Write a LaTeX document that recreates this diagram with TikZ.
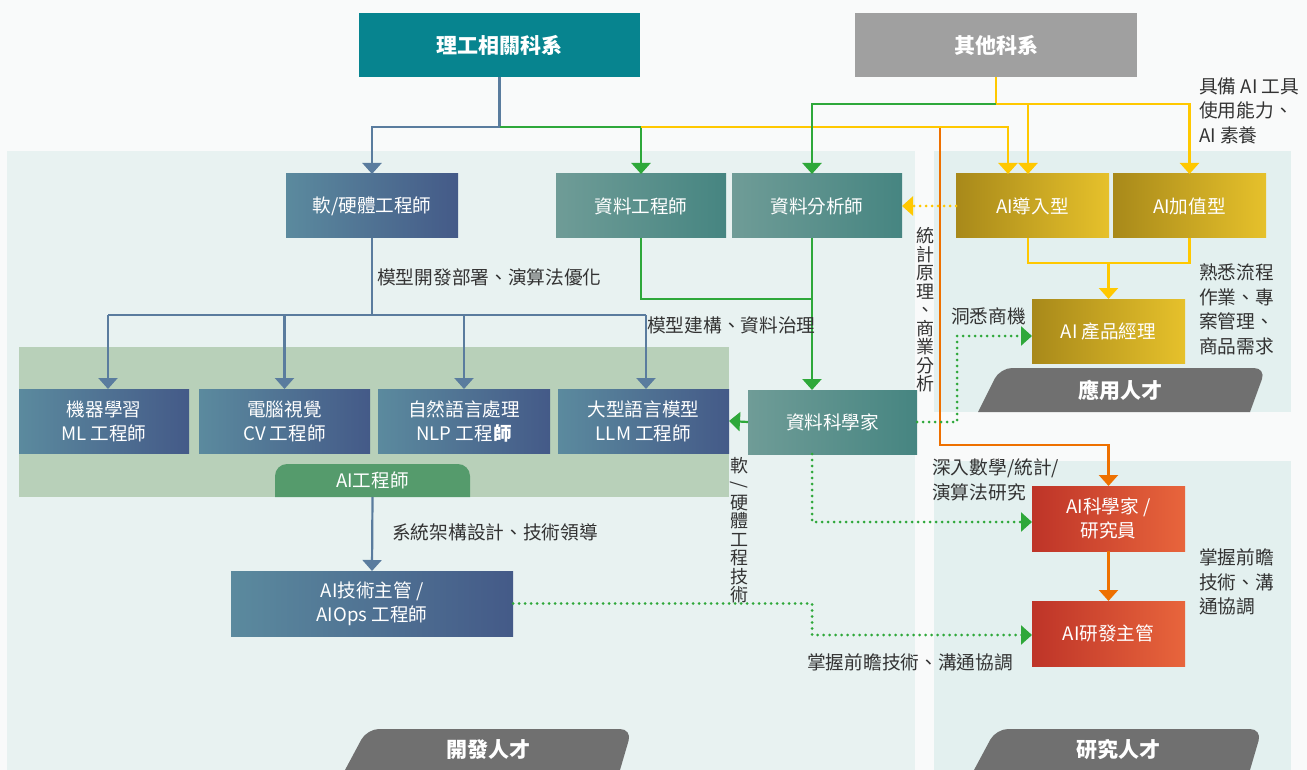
\documentclass[tikz,border=0pt]{standalone}
\usepackage{fontspec}
\usepackage{graphicx}
\setmainfont{Noto Sans CJK TC}
\usetikzlibrary{arrows.meta}
\definecolor{cLG}{HTML}{07848F}
\definecolor{cOT}{HTML}{A0A0A0}
\definecolor{bL}{HTML}{5B8A9E}
\definecolor{bR}{HTML}{445A88}
\definecolor{tL}{HTML}{6F9C97}
\definecolor{tR}{HTML}{468581}
\definecolor{gL}{HTML}{A8891A}
\definecolor{gR}{HTML}{E6C12B}
\definecolor{rL}{HTML}{BE3428}
\definecolor{rR}{HTML}{E8653C}
\definecolor{lnB}{HTML}{5A7C9E}
\definecolor{lnG}{HTML}{2EA83A}
\definecolor{lnY}{HTML}{FFC800}
\definecolor{lnO}{HTML}{EE7000}
\definecolor{sage}{HTML}{B8D0B9}
\definecolor{tabG}{HTML}{559B6C}
\definecolor{tabK}{HTML}{707070}
\definecolor{pnL}{HTML}{E8F2F1}
\definecolor{pnR}{HTML}{E3F0EF}
\definecolor{bgc}{HTML}{F9FAFA}
\definecolor{txt}{HTML}{333333}
\begin{document}
\begin{tikzpicture}[x=1pt,y=-1pt,
  box/.style={inner sep=0pt, outer sep=0pt, text=white, align=center, font=\fontsize{18.6}{24}\selectfont},
  bluebox/.style={box, left color=bL, right color=bR},
  tealbox/.style={box, left color=tL, right color=tR},
  goldbox/.style={box, left color=gL, right color=gR},
  redbox/.style={box, left color=rL, right color=rR},
  topbox/.style={box, font=\fontsize{21}{24}\selectfont\bfseries, minimum width=281pt, minimum height=64pt},
  lbl/.style={text=txt, font=\fontsize{18.7}{24.5}\selectfont, inner sep=0pt, align=left, anchor=west},
  vlbl/.style={text=txt, font=\fontsize{18}{18.5}\selectfont, inner sep=0pt, align=center},
  tabtxt/.style={text=white, font=\fontsize{21}{24}\selectfont\bfseries, inner sep=0pt},
  tipA/.style={-{Triangle[width=19pt,length=11pt]}},
  lnb/.style={draw=lnB, line width=2.2pt},
  lng/.style={draw=lnG, line width=2.2pt},
  lny/.style={draw=lnY, line width=2.2pt},
  lno/.style={draw=lnO, line width=2.2pt},
  gdot/.style={draw=lnG, line width=3pt, line cap=round, dash pattern=on 0pt off 6pt},
  ydot/.style={draw=lnY, line width=3pt, line cap=round, dash pattern=on 0pt off 6pt}
]
\useasboundingbox (0,0) rectangle (1307,770);
\fill[bgc] (0,0) rectangle (1307,770);
% panels
\fill[pnL] (7,151) rectangle (915,770);
\fill[pnR] (934,151) rectangle (1291,412);
\fill[pnR] (934,461) rectangle (1291,770);
\fill[sage] (19,347) rectangle (729,497);
% tabs
\fill[tabG] (275,497) [rounded corners=12pt] -- (275,464) -- (470,464) [sharp corners] -- (470,497) -- cycle;
\fill[tabK] (978,412) [rounded corners=12pt] -- (1000,368) -- (1266,368) [sharp corners] -- (1250,412) -- cycle;
\fill[tabK] (345,770) [rounded corners=12pt] -- (367,729) -- (632,729) [sharp corners] -- (620,770) -- cycle;
\fill[tabK] (974,770) [rounded corners=12pt] -- (996,729) -- (1262,729) [sharp corners] -- (1250,770) -- cycle;
\node[tabtxt] (tapp) at (1120,390) {應用人才};
\node[tabtxt] (tdev) at (488,750) {開發人才};
\node[tabtxt] (tres) at (1118,750) {研究人才};
\node[box, minimum width=195pt, minimum height=33pt] (aie) at (372.5,480.5) {AI工程師};
% boxes
\node[topbox, fill=cLG] (lg) at (499.5,45) {理工相關科系};
\node[topbox, fill=cOT, minimum width=282pt] (ot) at (996,45) {其他科系};
\node[bluebox, minimum width=172pt, minimum height=64pt] (sw) at (372,206) {軟/硬體工程師};
\node[tealbox, minimum width=170pt, minimum height=64pt] (de) at (641,206) {資料工程師};
\node[tealbox, minimum width=170pt, minimum height=64pt] (da) at (817,206) {資料分析師};
\node[goldbox, minimum width=153pt, minimum height=64pt] (ai1) at (1032.5,206) {AI導入型};
\node[goldbox, minimum width=153pt, minimum height=64pt] (ai2) at (1189.5,206) {AI加值型};
\node[goldbox, minimum width=153pt, minimum height=64pt] (pm) at (1108.5,331) {AI 產品經理};
\node[bluebox, minimum width=170pt, minimum height=64pt] (ml) at (104,421) {機器學習\\ML 工程師};
\node[bluebox, minimum width=171pt, minimum height=64pt] (cv) at (284.5,421) {電腦視覺\\CV 工程師};
\node[bluebox, minimum width=172pt, minimum height=64pt] (nlp) at (464,421) {自然語言處理\\NLP 工程\textbf{師}};
\node[bluebox, minimum width=171pt, minimum height=64pt] (llm) at (643.5,421) {大型語言模型\\LLM 工程師};
\node[tealbox, minimum width=169pt, minimum height=64pt] (ds) at (832.5,422) {資料科學家};
\node[bluebox, minimum width=282pt, minimum height=65pt] (lead) at (372,603.5) {AI技術主管 /\\AIOps 工程師};
\node[redbox, minimum width=153pt, minimum height=65pt] (sci) at (1108.5,518.5) {AI科學家 /\\研究員};
\node[redbox, minimum width=153pt, minimum height=65pt] (rd) at (1108.5,633.5) {AI研發主管};
% junctions
\coordinate (j1) at (499.5,127);
\coordinate (j2) at (641,127);
\coordinate (j3) at (940,127);
\coordinate (o1) at (940,445);
\coordinate (j4) at (996,104);
\coordinate (y1) at (1108.5,263);
\coordinate (g1) at (812,299);
\coordinate (b1) at (372,315);
\coordinate (d1) at (957,336);
\coordinate (d2) at (812,522);
\coordinate (d3) at (812,635);
% top connectors
\draw[lno, tipA] (j3) -- (o1) -| (sci.north);
\draw[lnb, tipA] (lg.south) -- (j1) -| (sw.north);
\draw[lng, tipA] (j1) -| (de.north);
\draw[lny, tipA] (j2) -| ([xshift=-24.5pt]ai1.north);
\draw[lny] (ot.south) -- (j4);
\draw[lny, tipA] (j4) -| (ai2.north);
\draw[lny, tipA] ([xshift=-4.5pt]ai1.north |- j4) -- ([xshift=-4.5pt]ai1.north);
\draw[lng, tipA] (j4) -| ([xshift=-5pt]da.north);
\draw[ydot, tipA] (ai1.west) -- (da.east);
% yellow to PM
\draw[lny] ([xshift=-4.5pt]ai1.south) |- (y1) -| (ai2.south);
\draw[lny, tipA] (y1) -- (pm.north);
% blue tree
\draw[lnb] (sw.south) -- (b1);
\draw[lnb] ([xshift=4pt]ml.north |- b1) -- ([xshift=2.5pt]llm.north |- b1);
\draw[lnb, tipA] ([xshift=4pt]ml.north |- b1) -- ([xshift=4pt]ml.north);
\draw[lnb, tipA] (cv.north |- b1) -- (cv.north);
\draw[lnb, tipA] (nlp.north |- b1) -- (nlp.north);
\draw[lnb, tipA] ([xshift=2.5pt]llm.north |- b1) -- ([xshift=2.5pt]llm.north);
\draw[lnb, tipA] (aie.south) -- (lead.north);
% green
\draw[lng] (de.south) |- (g1);
\draw[lng, tipA] ([xshift=-5pt]da.south) -- ([xshift=-20.5pt]ds.north);
\draw[lng, tipA] (ds.west) -- (llm.east);
\draw[gdot, tipA] (ds.east) -| (d1) -- (pm.west |- d1);
\draw[gdot, tipA] ([xshift=-20.5pt]ds.south) |- (sci.west |- d2);
\draw[gdot, tipA] (lead.east) -| (d3) -- (rd.west |- d3);
\draw[lno, tipA] (sci.south) -- (rd.north);
% labels
\node[lbl] (l1) at (377,277) {模型開發部署、演算法優化};
\node[lbl] (l2) at (647,325) {模型建構、資料治理};
\node[lbl] (l3) at (392,532) {系統架構設計、技術領導};
\node[lbl] (l4) at (951,316) {洞悉商機};
\node[lbl] (l5) at (932,480) {深入數學/統計/\\演算法研究};
\node[lbl] (l6) at (807,662) {掌握前瞻技術、溝通協調};
\node[lbl] (l7) at (1199,110.5) {具備 AI 工具\\使用能力、\\AI 素養};
\node[lbl] (l8) at (1199,309.5) {熟悉流程\\作業、專\\案管理、\\商品需求};
\node[lbl] (l9) at (1199,582) {掌握前瞻\\技術、溝\\通協調};
\node[vlbl] (v1) at (925,310) {統\\計\\原\\理\\、\\商\\業\\分\\析};
\node[vlbl] (v2) at (739,530) {軟\\\smash{\rotatebox[origin=c]{-90}{/}}\\硬\\體\\工\\程\\技\\術};
\end{tikzpicture}
\end{document}
